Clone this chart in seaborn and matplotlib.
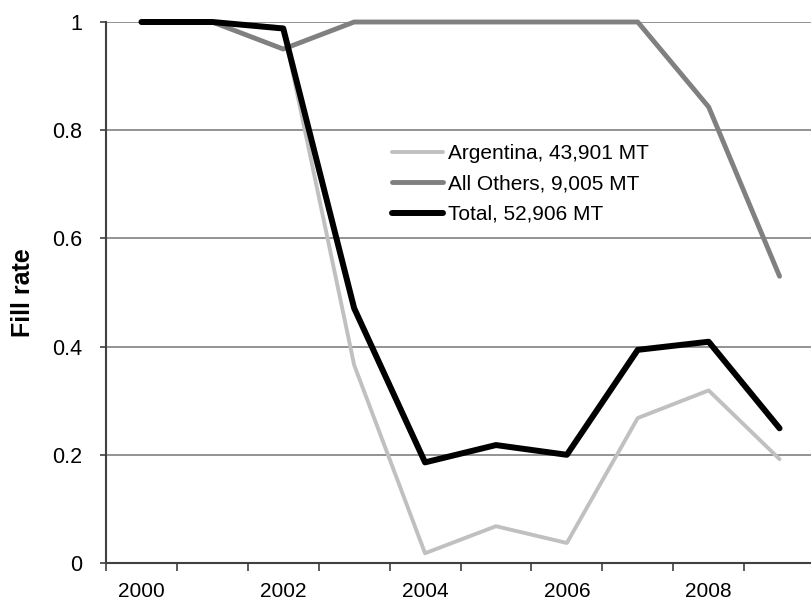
import numpy as np
import pandas as pd
import matplotlib
matplotlib.use("Agg")
import matplotlib.pyplot as plt
from matplotlib.ticker import FixedLocator, FuncFormatter
import seaborn as sns

years = [2000, 2001, 2002, 2003, 2004, 2005, 2006, 2007, 2008, 2009]
argentina = [1.0, 1.0, 0.99, 0.366, 0.018, 0.068, 0.037, 0.268, 0.319, 0.192]
all_others = [1.0, 1.0, 0.95, 1.0, 1.0, 1.0, 1.0, 1.0, 0.843, 0.530]
total = [1.0, 1.0, 0.988, 0.471, 0.186, 0.218, 0.200, 0.394, 0.409, 0.249]
series_names = ["Argentina, 43,901 MT", "All Others, 9,005 MT", "Total, 52,906 MT"]
series_colors = ["#C0C0C0", "#808080", "#000000"]
series_widths = [2.8, 3.5, 4.3]
y_ticks = [0, 0.2, 0.4, 0.6, 0.8, 1.0]
x_label_years = [2000, 2002, 2004, 2006, 2008]

sns.set_theme(style="white")
plt.rcParams["font.family"] = ["Liberation Sans", "DejaVu Sans"]

df = pd.DataFrame({
    "year": years * 3,
    "value": argentina + all_others + total,
    "series": [series_names[0]] * len(years) + [series_names[1]] * len(years) + [series_names[2]] * len(years),
})

fig = plt.figure(figsize=(8.12, 6.05), dpi=100)
ax = fig.add_axes([106 / 812, 42 / 605, 709 / 812, 541 / 605])

# gridlines
for yv in y_ticks[1:]:
    ax.axhline(yv, color="#808080", lw=1.2, zorder=1)

for name, col, lw in zip(series_names, series_colors, series_widths):
    sub = df[df["series"] == name]
    sns.lineplot(data=sub, x="year", y="value", ax=ax, color=col, lw=lw,
                 label=name, zorder=3, clip_on=False)

ax.set_xlim(1999.5, 2009.5)
ax.set_ylim(0, 1)

ax.xaxis.set_major_locator(FixedLocator(x_label_years))
ax.xaxis.set_major_formatter(FuncFormatter(lambda v, p: f"{int(round(v))}"))
ax.xaxis.set_minor_locator(FixedLocator([y + 0.5 for y in [1999] + years]))
ax.tick_params(axis="x", which="major", length=0, pad=13.5, labelsize=15, labelcolor="black")
ax.tick_params(axis="x", which="minor", length=6, width=1.2, color="#404040", direction="out", bottom=True)

ax.yaxis.set_major_locator(FixedLocator(y_ticks))
ax.yaxis.set_major_formatter(FuncFormatter(lambda v, p: f"{v:g}"))
ax.tick_params(axis="y", which="major", length=4, width=1.2, color="#404040", direction="out",
               left=True, pad=13, labelsize=15.5, labelcolor="black")

for s in ["top", "right"]:
    ax.spines[s].set_visible(False)
for s in ["left", "bottom"]:
    ax.spines[s].set_color("#404040")
    ax.spines[s].set_linewidth(1.5)
    ax.spines[s].set_zorder(4)

ax.set_xlabel("")
ax.set_ylabel("Fill rate", fontsize=18, fontweight="bold", color="black")
ax.yaxis.set_label_coords(-0.1, 0.5)

leg = ax.legend(loc="upper left", bbox_to_anchor=(392 / 812, 1 - 144 / 605),
                bbox_transform=fig.transFigure, frameon=False, fontsize=15,
                handlelength=2.45, handletextpad=0.25, labelspacing=0.55,
                borderpad=0, borderaxespad=0)
for t in leg.get_texts():
    t.set_color("black")

fig.savefig("out.png", dpi=100)
